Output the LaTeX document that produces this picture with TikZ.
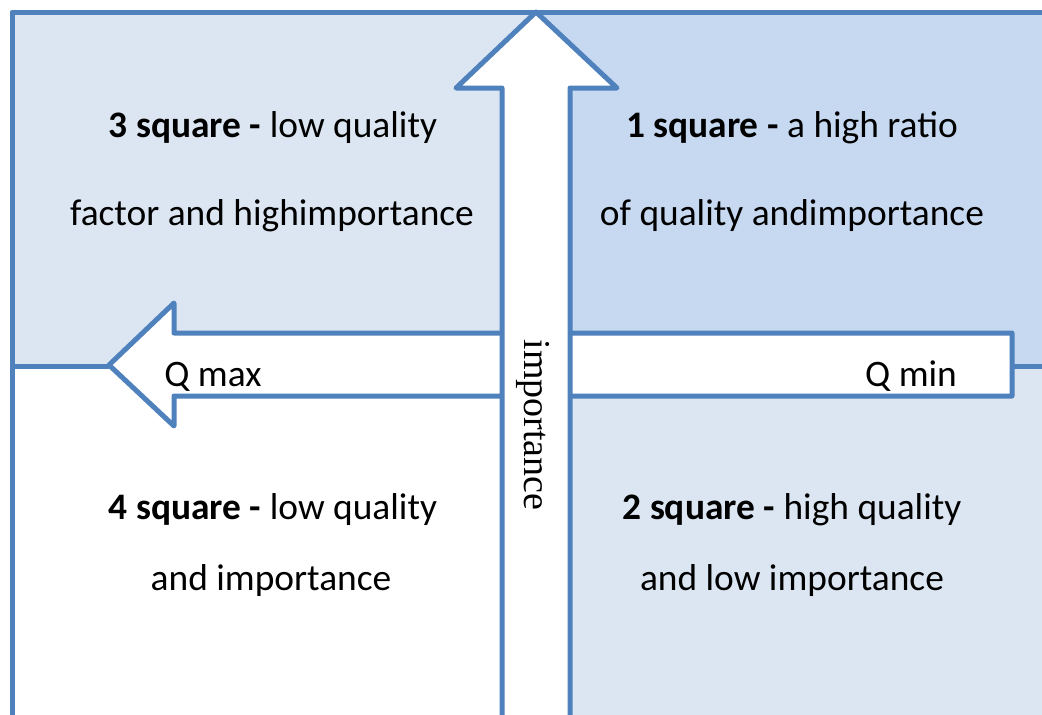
\documentclass[tikz,border=0pt]{standalone}
\usepackage{fontspec}
\setmainfont{Carlito}
\newfontfamily\serifimp{Liberation Serif}
\definecolor{lineblue}{HTML}{4F81BD}
\definecolor{paleblue}{HTML}{DCE6F2}
\definecolor{midblue}{HTML}{C6D9F1}
\begin{document}
\begin{tikzpicture}[x=1pt,y=-1pt,
  edge/.style={draw=lineblue,line width=5pt,line join=round},
  arrowshape/.style={edge,fill=white},
  txt/.style={anchor=base,inner sep=0pt,font=\fontsize{37.4}{44}\selectfont},
]
\useasboundingbox (0,0) rectangle (1042,715);
% quadrant fills
\fill[paleblue] (12,12) rectangle (536,366);
\fill[midblue] (536,12) rectangle (1042,366);
\fill[paleblue] (536,366) rectangle (1042,715);
% borders
\draw[edge] (12,715) -- (12,12) -- (1042,12);
\draw[edge] (12,366) -- (109,366);
\draw[edge] (1012,366) -- (1042,366);
% horizontal arrow
\draw[arrowshape] (1012,333) -- (174,333) -- (174,303) -- (109,365) -- (174,426) -- (174,396) -- (1012,396) -- cycle;
% vertical arrow
\draw[arrowshape] (502,718) -- (502,88) -- (456,88) -- (536,12) -- (617,88) -- (570,88) -- (570,718);
% texts
\node[txt] (q3a) at (273,137) {\textbf{3 square -} low quality};
\node[txt] (q3b) at (272,225) {factor and highimportance};
\node[txt] (q1a) at (792,137) {\textbf{1 square -} a high ratio};
\node[txt] (q1b) at (792,225) {of quality andimportance};
\node[txt] (q4a) at (273,519) {\textbf{4 square -} low quality};
\node[txt] (q4b) at (271,590) {and importance};
\node[txt] (q2a) at (792,519) {\textbf{2 square -} high quality};
\node[txt] (q2b) at (792,590) {and low importance};
\node[txt] (qmax) at (213,386) {Q max};
\node[txt] (qmin) at (911,386) {Q min};
\node[inner sep=0pt,rotate=-90,font=\serifimp\fontsize{38}{44}\selectfont] (imp) at (533,425) {importance};
\end{tikzpicture}
\end{document}
